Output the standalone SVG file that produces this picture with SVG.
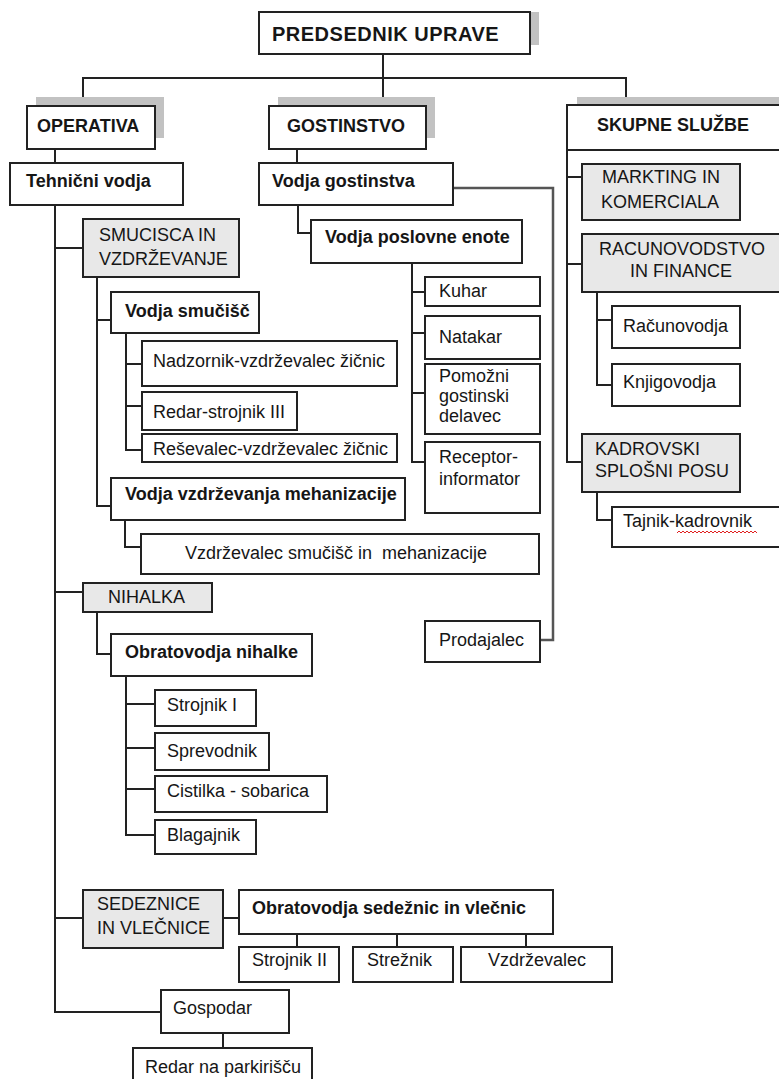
<svg xmlns="http://www.w3.org/2000/svg" width="779" height="1079" viewBox="0 0 779 1079">
<style>
  .box { fill: #ffffff; stroke: #222; stroke-width: 2; }
  .gbox { fill: #e8e8e8; stroke: #222; stroke-width: 2; }
  .shadow { fill: #c2c2c2; stroke: none; }
  .t { font-family: "Liberation Sans", Arial, sans-serif; font-size: 18px; fill: #161616; }
  .b { font-family: "Liberation Sans", Arial, sans-serif; font-size: 18px; font-weight: bold; fill: #161616; }
  .c { text-anchor: middle; }
  .ln { fill: none; stroke: #222; stroke-width: 2; }
  .gl { fill: none; stroke: #555; stroke-width: 2.5; }
</style>
<rect width="779" height="1079" fill="#ffffff"/>

<g id="connectors">
  <path class="ln" d="M383,54 V106"/>
  <path class="ln" d="M83,106 V78 H626 V105"/>
  <path class="ln" d="M55,149 V163"/>
  <path class="ln" d="M297,149 V163"/>
  <path class="ln" d="M55,205 V1012 H161"/>
  <path class="ln" d="M55,248 H83"/>
  <path class="ln" d="M55,592 H83"/>
  <path class="ln" d="M55,918 H83"/>
  <path class="ln" d="M97,277 V506 H111"/>
  <path class="ln" d="M97,320 H111"/>
  <path class="ln" d="M126,333 V450 H142"/>
  <path class="ln" d="M126,364 H142"/>
  <path class="ln" d="M126,406 H142"/>
  <path class="ln" d="M125,520 V547 H141"/>
  <path class="ln" d="M97,612 V654 H111"/>
  <path class="ln" d="M126,676 V835 H155"/>
  <path class="ln" d="M126,704 H155"/>
  <path class="ln" d="M126,748 H155"/>
  <path class="ln" d="M126,789 H155"/>
  <path class="ln" d="M223,918 H239"/>
  <path class="ln" d="M297,934 V947"/>
  <path class="ln" d="M397,934 V947"/>
  <path class="ln" d="M526,934 V947"/>
  <path class="ln" d="M223,1033 V1048"/>
  <path class="ln" d="M298,205 V233 H311"/>
  <path class="ln" d="M412,263 V462 H425"/>
  <path class="ln" d="M412,292 H425"/>
  <path class="ln" d="M412,333 H425"/>
  <path class="ln" d="M412,393 H425"/>
  <path class="gl" d="M453,188 H553 V640 H540"/>
  <path class="ln" d="M567,150 V462 H582"/>
  <path class="ln" d="M567,177 H582"/>
  <path class="ln" d="M567,264 H582"/>
  <path class="ln" d="M597,292 V385 H612"/>
  <path class="ln" d="M597,320 H612"/>
  <path class="ln" d="M597,492 V520 H612"/>
</g>

<g id="n-predsednik">
  <rect class="shadow" x="268" y="12" width="271" height="33"/>
  <rect class="box" x="259" y="12" width="271" height="42"/>
  <text class="b" x="272" y="41" style="font-size:20px;letter-spacing:0.5px">PREDSEDNIK UPRAVE</text>
</g>

<g id="n-operativa">
  <rect class="shadow" x="36" y="97" width="128" height="41"/>
  <rect class="box" x="27" y="106" width="128" height="43"/>
  <text class="b" x="37" y="132">OPERATIVA</text>
</g>
<g id="n-gostinstvo">
  <rect class="shadow" x="278" y="97" width="157" height="41"/>
  <rect class="box" x="269" y="106" width="157" height="43"/>
  <text class="b" x="287" y="132">GOSTINSTVO</text>
</g>
<g id="n-skupne">
  <rect class="shadow" x="577" y="97" width="215" height="41"/>
  <rect class="box" x="567" y="105" width="220" height="45"/>
  <text class="b" x="597" y="131">SKUPNE SLUŽBE</text>
</g>

<g id="n-tehnicni">
  <rect class="box" x="10" y="163" width="173" height="42"/>
  <text class="b" x="26" y="187">Tehnični vodja</text>
</g>
<g id="n-smucisca">
  <rect class="gbox" x="83" y="219" width="156" height="58"/>
  <text class="t" x="99" y="241">SMUCISCA IN</text>
  <text class="t" x="99" y="265">VZDRŽEVANJE</text>
</g>
<g id="n-vodja-smucisc">
  <rect class="box" x="111" y="292" width="148" height="41"/>
  <text class="b" x="125" y="317">Vodja smučišč</text>
</g>
<g id="n-nadzornik">
  <rect class="box" x="142" y="341" width="255" height="45"/>
  <text class="t" x="153" y="367">Nadzornik-vzdrževalec žičnic</text>
</g>
<g id="n-redar-strojnik">
  <rect class="box" x="142" y="392" width="155" height="38"/>
  <text class="t" x="153" y="418">Redar-strojnik III</text>
</g>
<g id="n-resevalec">
  <rect class="box" x="142" y="434" width="255" height="28"/>
  <text class="t" x="153" y="455">Reševalec-vzdrževalec žičnic</text>
</g>
<g id="n-vodja-vzdrzevanja">
  <rect class="box" x="111" y="478" width="294" height="42"/>
  <text class="b" x="125" y="500">Vodja vzdrževanja mehanizacije</text>
</g>
<g id="n-vzdrzevalec-smucisc">
  <rect class="box" x="141" y="534" width="398" height="40"/>
  <text class="t" x="185" y="559" xml:space="preserve">Vzdrževalec smučišč in  mehanizacije</text>
</g>

<g id="n-nihalka">
  <rect class="gbox" x="83" y="583" width="129" height="29"/>
  <text class="t" x="108" y="603">NIHALKA</text>
</g>
<g id="n-obratovodja-nihalke">
  <rect class="box" x="111" y="634" width="201" height="42"/>
  <text class="b" x="125" y="658">Obratovodja nihalke</text>
</g>
<g id="n-strojnik1">
  <rect class="box" x="155" y="690" width="101" height="36"/>
  <text class="t" x="167" y="711">Strojnik I</text>
</g>
<g id="n-sprevodnik">
  <rect class="box" x="155" y="733" width="114" height="37"/>
  <text class="t" x="167" y="757">Sprevodnik</text>
</g>
<g id="n-cistilka">
  <rect class="box" x="155" y="776" width="172" height="36"/>
  <text class="t" x="167" y="797">Cistilka - sobarica</text>
</g>
<g id="n-blagajnik">
  <rect class="box" x="155" y="820" width="101" height="34"/>
  <text class="t" x="167" y="841">Blagajnik</text>
</g>

<g id="n-sedeznice">
  <rect class="gbox" x="83" y="890" width="140" height="58"/>
  <text class="t" x="97" y="910">SEDEZNICE</text>
  <text class="t" x="97" y="934">IN VLEČNICE</text>
</g>
<g id="n-obratovodja-sedeznic">
  <rect class="box" x="239" y="890" width="314" height="44"/>
  <text class="b" x="252" y="914">Obratovodja sedežnic in vlečnic</text>
</g>
<g id="n-strojnik2">
  <rect class="box" x="239" y="947" width="100" height="35"/>
  <text class="t" x="252" y="966">Strojnik II</text>
</g>
<g id="n-streznik">
  <rect class="box" x="353" y="947" width="100" height="35"/>
  <text class="t" x="367" y="966">Strežnik</text>
</g>
<g id="n-vzdrzevalec">
  <rect class="box" x="461" y="947" width="151" height="35"/>
  <text class="t c" x="537" y="966">Vzdrževalec</text>
</g>

<g id="n-gospodar">
  <rect class="box" x="161" y="990" width="128" height="43"/>
  <text class="t" x="173" y="1014">Gospodar</text>
</g>
<g id="n-redar-parkirisce">
  <rect class="box" x="133" y="1048" width="179" height="40"/>
  <text class="t" x="145" y="1073">Redar na parkirišču</text>
</g>

<g id="n-vodja-gostinstva">
  <rect class="box" x="259" y="163" width="194" height="42"/>
  <text class="b" x="272" y="187">Vodja gostinstva</text>
</g>
<g id="n-vodja-poslovne">
  <rect class="box" x="311" y="220" width="211" height="43"/>
  <text class="b" x="325" y="243">Vodja poslovne enote</text>
</g>
<g id="n-kuhar">
  <rect class="box" x="425" y="277" width="115" height="29"/>
  <text class="t" x="439" y="297">Kuhar</text>
</g>
<g id="n-natakar">
  <rect class="box" x="425" y="316" width="115" height="43"/>
  <text class="t" x="439" y="343">Natakar</text>
</g>
<g id="n-pomozni">
  <rect class="box" x="425" y="364" width="115" height="70"/>
  <text class="t" x="439" y="382">Pomožni</text>
  <text class="t" x="439" y="402">gostinski</text>
  <text class="t" x="439" y="422">delavec</text>
</g>
<g id="n-receptor">
  <rect class="box" x="425" y="442" width="115" height="71"/>
  <text class="t" x="439" y="463">Receptor-</text>
  <text class="t" x="439" y="485">informator</text>
</g>
<g id="n-prodajalec">
  <rect class="box" x="425" y="621" width="115" height="41"/>
  <text class="t" x="439" y="646">Prodajalec</text>
</g>

<g id="n-markting">
  <rect class="gbox" x="582" y="164" width="158" height="56"/>
  <text class="t c" x="661" y="183">MARKTING IN</text>
  <text class="t c" x="660" y="208">KOMERCIALA</text>
</g>
<g id="n-racunovodstvo">
  <rect class="gbox" x="582" y="234" width="200" height="58"/>
  <text class="t c" x="682" y="255">RACUNOVODSTVO</text>
  <text class="t c" x="681" y="277">IN FINANCE</text>
</g>
<g id="n-racunovodja">
  <rect class="box" x="612" y="306" width="128" height="42"/>
  <text class="t" x="623" y="332">Računovodja</text>
</g>
<g id="n-knjigovodja">
  <rect class="box" x="612" y="364" width="128" height="42"/>
  <text class="t" x="623" y="388">Knjigovodja</text>
</g>
<g id="n-kadrovski">
  <rect class="gbox" x="582" y="434" width="158" height="58"/>
  <text class="t" x="595" y="455">KADROVSKI</text>
  <text class="t" x="595" y="477">SPLOŠNI POSU</text>
</g>
<g id="n-tajnik">
  <rect class="box" x="612" y="507" width="175" height="40"/>
  <text class="t" x="623" y="527">Tajnik-kadrovnik</text>
  <polyline fill="none" stroke="#e02020" stroke-width="1" points="677,533 679,531 681,533 683,531 685,533 687,531 689,533 691,531 693,533 695,531 697,533 699,531 701,533 703,531 705,533 707,531 709,533 711,531 713,533 715,531 717,533 719,531 721,533 723,531 725,533 727,531 729,533 731,531 733,533 735,531 737,533 739,531 741,533 743,531 745,533 747,531 749,533 751,531 753,533 755,531 757,533"/>
</g>
</svg>
